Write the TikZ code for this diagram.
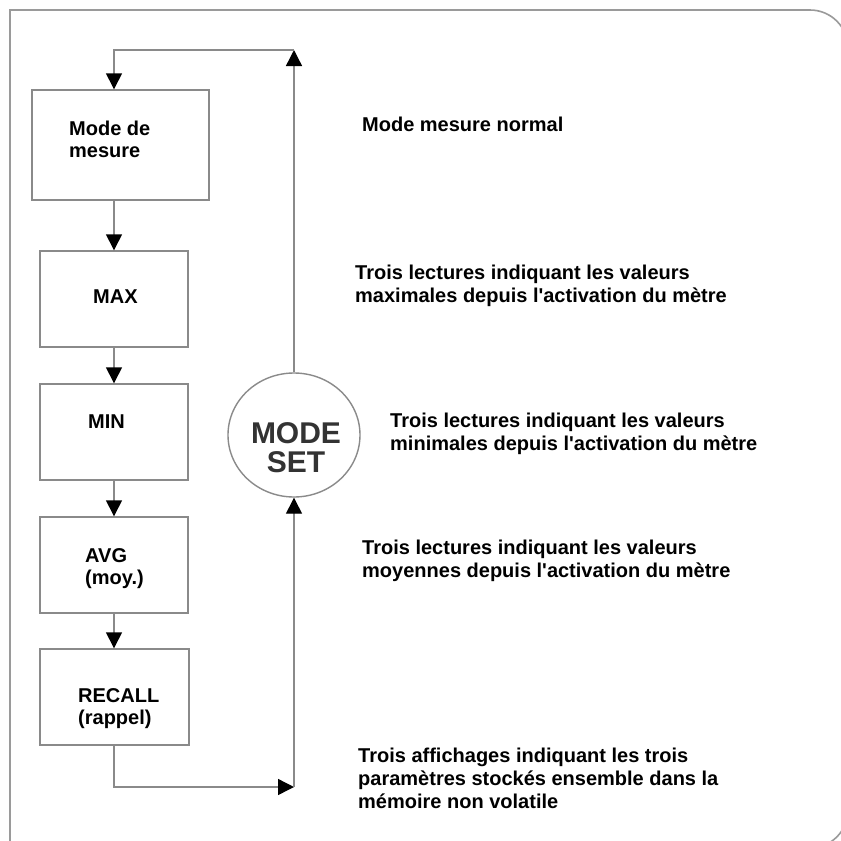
\documentclass[tikz,border=0pt]{standalone}
\usepackage{fontspec}
\setmainfont{Liberation Sans}[Ligatures=TeXOff]
\usetikzlibrary{arrows.meta,shapes.geometric}
\definecolor{linegray}{HTML}{8A8A8A}
\definecolor{framegray}{HTML}{9A9A9A}
\definecolor{textdark}{HTML}{333333}
\begin{document}
\begin{tikzpicture}[x=1pt,y=-1pt,
  line/.style={draw=linegray, line width=1.4pt},
  box/.style={draw=linegray, line width=1.4pt, fill=white, inner sep=0pt, rectangle},
  lbl/.style={font=\fontsize{20}{23}\selectfont\bfseries, inner sep=0pt, anchor=base west, align=left},
  arr/.style={-{Triangle[width=16pt,length=16pt,color=black]}},
  framestyle/.style={draw=framegray, line width=1.6pt}]
\useasboundingbox (0,0) rectangle (841,841);
\clip (0,0) rectangle (841,841);
\fill[white] (0,0) rectangle (841,841);
\draw[framestyle, rounded corners=38pt] (10,10) -- (848,10) -- (848,848) -- (400,848);
\draw[framestyle, line cap=rect] (10,10) -- (10,850);

% boxes
\node[box, minimum width=177pt, minimum height=110pt] (mode) at (120.5,145) {};
\node[box, minimum width=148pt, minimum height=96pt] (max) at (114,299) {};
\node[box, minimum width=148pt, minimum height=96pt] (min) at (114,432) {};
\node[box, minimum width=148pt, minimum height=96pt] (avg) at (114,565) {};
\node[box, minimum width=149pt, minimum height=96pt] (recall) at (114.5,697) {};
\node[draw=linegray, line width=1.4pt, fill=white, ellipse, minimum width=132pt, minimum height=124pt, inner sep=0pt] (circ) at (294,435) {};

% box texts (base anchor = baseline of last line)
\node[lbl, font=\fontsize{20}{22}\selectfont\bfseries] (modet) at (69,157) {Mode de\\mesure};
\node[lbl] (maxt) at (93,303) {MAX};
\node[lbl] (mint) at (88,428) {MIN};
\node[lbl, font=\fontsize{20}{22}\selectfont\bfseries] (avgt) at (85,584) {AVG\\(moy.)};
\node[lbl, font=\fontsize{20}{22}\selectfont\bfseries] (recallt) at (78,724) {RECALL\\(rappel)};
\node[inner sep=0pt, anchor=base, align=center, text=textdark, font=\fontsize{30}{29}\selectfont\bfseries] (circt) at (296,472) {MODE\\SET};

% connectors
\coordinate (tr) at (294,50);
\coordinate (br) at (294,787);
\draw[line,arr] (circ.north) -- (tr);
\draw[line,arr] (tr) -| (max.north |- mode.north);
\draw[line,arr] (max.north |- mode.south) -- (max.north);
\draw[line,arr] (max.south) -- (min.north);
\draw[line,arr] (min.south) -- (avg.north);
\draw[line,arr] (avg.south) -- (recall.north -| avg.south);
\draw[line,arr] (recall.south -| avg.south) |- (br);
\draw[line,arr] (br) -- (circ.south);

% descriptions
\node[lbl] (d0) at (362,131) {Mode mesure normal};
\node[lbl] (d1) at (355,302) {Trois lectures indiquant les valeurs\\maximales depuis l'activation du mètre};
\node[lbl] (d2) at (390,450) {Trois lectures indiquant les valeurs\\minimales depuis l'activation du mètre};
\node[lbl] (d3) at (362,577) {Trois lectures indiquant les valeurs\\moyennes depuis l'activation du mètre};
\node[lbl] (d4) at (358,808) {Trois affichages indiquant les trois\\paramètres stockés ensemble dans la\\mémoire non volatile};
\end{tikzpicture}
\end{document}
